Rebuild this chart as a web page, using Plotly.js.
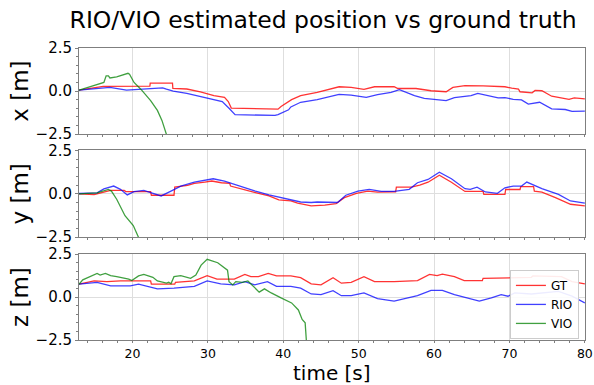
<!DOCTYPE html>
<html>
<head>
<meta charset="utf-8">
<script src="https://cdn.plot.ly/plotly-3.0.1.min.js"></script>
<style>html,body{margin:0;padding:0;background:#fff;}#chart{width:594px;height:385px;}</style>
</head>
<body>
<div id="chart"></div>
<script>
// ---- data ----
const seriesNames = ["GT", "RIO", "VIO"];
const panelLabels = ["x [m]", "y [m]", "z [m]"];
const xTickVals = [20, 30, 40, 50, 60, 70, 80];
const yTickVals = [-2.5, 0, 2.5];

// x position
const tX_GT = [12.9,14.5,16.1,22.3,22.35,25.3,25.35,27.2,29.0,30.8,32.2,32.7,33.1,39.3,39.7,41.1,42.3,44.5,47.4,49.0,50.7,52.1,54.7,55.2,57.6,59.6,61.6,62.5,64.1,66.5,69.4,70.3,71.2,71.4,73.0,73.4,74.3,75.6,77.9,78.6,80];
const x_GT  = [0.05,0.18,0.27,0.29,0.46,0.46,0.15,0.12,-0.04,-0.27,-0.36,-0.61,-0.99,-1.05,-0.9,-0.5,-0.27,-0.08,0.25,0.21,0.1,0.25,0.25,0.15,0.15,0.02,-0.04,0.21,0.32,0.3,0.25,0.17,0.11,-0.04,-0.1,0.04,0.02,-0.3,-0.48,-0.4,-0.45];
const tX_RIO = [12.9,17.0,19.2,21.0,22.7,24.0,24.5,25.4,27.2,29.0,30.8,31.9,32.8,33.6,38.9,39.3,40.7,41.0,42.3,44.5,47.4,49.0,51.0,52.5,54.3,55.4,57.4,58.7,60.0,61.6,62.7,64.9,65.8,67.1,68.5,69.4,70.5,71.6,72.5,74.0,75.6,77.4,78.3,80];
const x_RIO  = [0.05,0.21,0.06,0.11,0.19,0.19,0.11,0,-0.13,-0.32,-0.51,-0.61,-1.0,-1.37,-1.41,-1.37,-1.09,-0.92,-0.65,-0.5,-0.19,-0.23,-0.36,-0.21,-0.08,0.08,-0.27,-0.42,-0.48,-0.55,-0.38,-0.27,-0.13,-0.27,-0.4,-0.38,-0.48,-0.51,-0.76,-0.65,-1.03,-1.07,-1.18,-1.16];
const tX_VIO = [12.9,14.4,16.2,16.5,16.8,17.0,17.9,19.4,19.6,20.2,21.1,22.4,23.3,23.9,24.5,25.0];
const x_VIO  = [0.05,0.27,0.5,0.88,0.88,0.76,0.82,1.03,0.98,0.5,0.11,-0.55,-1.12,-1.7,-2.46,-3.2];

// y position
const tY_GT = [12.9,14.9,15.8,17.1,18.9,19.1,22.4,22.5,25.5,25.6,27.3,28.2,29.6,30.5,31.8,32.9,33.0,34.5,36.3,38.1,39.4,41.0,41.9,43.7,45.5,47.0,48.1,49.7,51.2,52.5,54.9,55.0,57.0,58.1,59.2,60.7,62.3,64.1,66.5,66.6,69.4,69.5,71.4,71.5,73.2,73.3,74.3,76.1,78.1,80];
const y_GT  = [0,-0.04,0.06,0.2,0.2,0.13,0.13,-0.08,-0.08,0.39,0.49,0.6,0.68,0.74,0.64,0.6,0.45,0.26,0.07,-0.12,-0.35,-0.41,-0.54,-0.69,-0.65,-0.56,-0.22,0.03,0.16,0.1,0.12,0.39,0.39,0.5,0.67,1.07,0.67,0.14,0.14,-0.03,-0.03,0.25,0.25,0.42,0.42,0.16,0.1,-0.22,-0.6,-0.69];
const tY_RIO = [12.9,15.3,16.2,17.5,18.4,19.3,20.2,21.5,22.4,23.8,25.1,26.4,28.2,30.7,32.2,34.5,36.3,38.1,39.9,41.0,42.3,43.7,44.5,47.2,48.3,49.9,51.4,53.0,54.7,56.7,57.8,59.2,60.7,62.3,64.1,64.8,65.7,66.8,68.4,69.4,70.5,71.6,72.3,74.3,76.5,78.1,80];
const y_RIO  = [0.02,0.06,0.29,0.45,0.26,-0.06,0.13,0.2,0.07,-0.12,0.16,0.45,0.68,0.87,0.74,0.39,0.16,-0.06,-0.22,-0.31,-0.47,-0.5,-0.47,-0.5,-0.08,0.16,0.26,0.14,0.14,0.26,0.64,0.83,1.25,0.87,0.3,0.26,0.39,0.11,0.03,0.35,0.45,0.45,0.68,0.3,-0.03,-0.41,-0.54];
const tY_VIO = [12.9,15.3,16.8,17.2,17.9,19.0,20.1,20.8,21.3];
const y_VIO  = [0,0.06,0.26,0.16,-0.31,-1.26,-1.83,-2.5,-3.0];

// z position
const tZ_GT = [12.9,14.9,16.6,18.4,22.4,22.5,25.6,25.7,28.2,29.9,31.2,33.5,34.9,35.7,36.7,38.0,39.1,41.0,42.3,43.7,45.0,46.6,47.7,49.0,50.7,52.1,54.7,57.8,59.4,60.4,61.1,62.7,64.0,66.4,66.5,72.9,73.1,76.9,78.3,80];
const z_GT  = [0.75,0.94,0.9,0.94,0.94,0.75,0.75,0.86,0.94,1.25,1.05,1.05,1.32,1.19,1.19,1.38,1.23,1.23,1.13,0.77,0.71,1.13,0.81,0.86,1.19,0.9,0.9,0.96,1.32,1.25,1.34,1.19,0.96,0.96,1.09,1.15,1.23,1.19,0.9,0.77];
const tZ_RIO = [12.9,15.3,17.1,19.7,20.8,21.9,23.3,25.5,28.2,29.9,31.7,33.5,34.9,36.2,37.9,39.1,41.0,42.3,43.7,45.0,46.6,47.7,49.0,50.7,52.5,54.7,56.0,57.8,59.6,61.1,62.7,64.4,66.0,67.6,68.9,69.8,70.7,72.9,74.7,76.5,78.3,80];
const z_RIO  = [0.75,0.86,0.65,0.65,0.75,0.62,0.48,0.52,0.62,0.94,0.77,0.71,0.9,0.71,0.9,0.62,0.62,0.52,0.18,0.14,0.37,0.08,0.08,0.24,-0.09,-0.24,-0.09,0.08,0.39,0.39,0.14,-0.05,-0.24,-0.05,0.14,0.05,0.24,0.18,0.24,0.33,0.05,-0.34];
const tZ_VIO = [12.9,13.4,15.3,15.7,16.4,17.1,17.9,19.5,19.9,20.8,21.5,22.7,23.3,24.5,24.8,25.1,25.5,26.4,27.7,28.4,29.1,29.9,31.3,32.6,32.8,33.3,33.7,34.6,35.3,36.2,36.8,37.5,38.4,39.7,41.1,42.0,42.5,42.9,43.0,43.1];
const z_VIO  = [0.75,1.0,1.38,1.28,1.38,1.25,1.19,1.05,0.96,1.23,1.32,1.15,0.94,0.81,0.86,0.77,1.19,1.25,1.09,1.28,1.86,2.2,2.0,1.57,0.9,0.71,0.9,0.86,0.94,0.58,0.29,0.48,0.24,-0.05,-0.34,-0.75,-1.3,-1.5,-2.0,-2.8];

// ---- build ----
const colors = {GT: "rgba(255,0,0,0.8)", RIO: "rgba(0,0,255,0.75)", VIO: "rgba(0,128,0,0.75)"};
const panels = [
  {t: [tX_GT, tX_RIO, tX_VIO], v: [x_GT, x_RIO, x_VIO]},
  {t: [tY_GT, tY_RIO, tY_VIO], v: [y_GT, y_RIO, y_VIO]},
  {t: [tZ_GT, tZ_RIO, tZ_VIO], v: [z_GT, z_RIO, z_VIO]}
];
const traces = [];
panels.forEach((p, i) => {
  const sfx = i === 0 ? "" : String(i + 1);
  seriesNames.forEach((name, k) => {
    traces.push({
      type: "scatter", mode: "lines", name: name,
      x: p.t[k], y: p.v[k],
      xaxis: "x" + sfx, yaxis: "y" + sfx,
      line: {color: colors[name], width: 1.3},
      showlegend: i === 2,
      legendgroup: name
    });
  });
});

const frame = "#7f7f7f";
function xax(showLabels, anchor) {
  const a = {
    range: [12.9, 80.02], tickvals: xTickVals, showticklabels: showLabels,
    showgrid: true, gridcolor: "#dedede", gridwidth: 1, zeroline: false,
    showline: true, mirror: true, linecolor: frame, linewidth: 1,
    ticks: "outside", ticklen: 2, tickcolor: frame,
    minor: {dtick: 2, tick0: 0, ticks: "outside", ticklen: 2, tickcolor: frame, showgrid: false},
    tickfont: {size: 12.5, color: "#000"}, anchor: anchor
  };
  if (anchor !== "y") a.matches = "x";
  return a;
}
function yax(domain, anchor, label) {
  return {
    domain: domain, range: [-2.5, 2.5], tickvals: yTickVals, tickformat: ".1f",
    showgrid: true, gridcolor: "#dedede", zeroline: false,
    showline: true, mirror: true, linecolor: frame, linewidth: 1,
    ticks: "outside", ticklen: 3, tickcolor: frame,
    minor: {dtick: 0.5, ticks: "outside", ticklen: 2, tickcolor: frame, showgrid: false},
    tickfont: {size: 15, color: "#000"}, anchor: anchor,
    title: {text: label, font: {size: 23, color: "#000"}, standoff: 0}
  };
}

const layout = {
  width: 594, height: 385,
  margin: {l: 79, r: 9, t: 48, b: 45},
  paper_bgcolor: "#fff", plot_bgcolor: "#fff",
  font: {family: "DejaVu Sans", color: "#000"},
  title: {text: "RIO/VIO estimated position vs ground truth", font: {size: 23.5}, x: 0.544, xref: "container", xanchor: "center", y: 0.948, yref: "container", yanchor: "middle"},
  xaxis: xax(false, "y"),
  xaxis2: xax(false, "y2"),
  xaxis3: xax(true, "y3"),
  yaxis: yax([0.705, 1], "x", panelLabels[0]),
  yaxis2: yax([0.352, 0.649], "x2", panelLabels[1]),
  yaxis3: yax([0, 0.294], "x3", panelLabels[2]),
  annotations: [{text: "time [s]", xref: "paper", yref: "paper", x: 0.5, y: -0.113, xanchor: "center", yanchor: "middle", showarrow: false, font: {size: 20, color: "#000"}}],
  legend: {x: 0.988, xanchor: "right", y: 0.24, yanchor: "top", bgcolor: "rgba(255,255,255,0.9)", bordercolor: "#cccccc", borderwidth: 1, font: {size: 12}, tracegroupgap: 0, itemwidth: 30},
  showlegend: true
};

Plotly.newPlot("chart", traces, layout, {staticPlot: true, displayModeBar: false});
</script>
</body>
</html>
